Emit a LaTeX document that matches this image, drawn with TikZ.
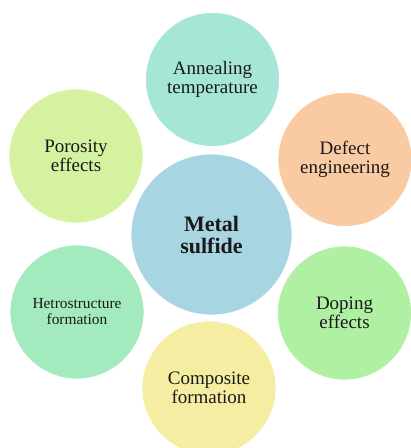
\documentclass[tikz,border=0pt]{standalone}
\usepackage{fontspec}
\setmainfont{Liberation Serif}
\definecolor{annealfill}{RGB}{166, 230, 214}
\definecolor{porefill}{RGB}{213, 242, 160}
\definecolor{defectfill}{RGB}{250, 203, 163}
\definecolor{metalfill}{RGB}{168, 213, 226}
\definecolor{heterofill}{RGB}{163, 235, 190}
\definecolor{dopefill}{RGB}{176, 240, 162}
\definecolor{compfill}{RGB}{245, 238, 162}
\begin{document}
\begin{tikzpicture}[x=1pt, y=-1pt,
            factor/.style={circle, draw=white, line width=0.8pt, minimum size=134pt, inner sep=0pt, align=center, text=black!90, font=\fontsize{19}{19.5}\selectfont},
            core/.style={factor, minimum size=161pt, font=\fontsize{22}{22}\selectfont\bfseries}
        ]
            \useasboundingbox (0,0) rectangle (411,448);

            \node[core, fill=metalfill] (metal) at (211.5,234.5) {Metal\\sulfide};

            \node[factor, fill=annealfill] (anneal) at (212.5,79.5) {Annealing\\temperature};
            \node[factor, fill=defectfill] (defect) at (345,159.5) {Defect\\engineering};
            \node[factor, fill=dopefill] (doping) at (344.5,313) {Doping\\effects};
            \node[factor, fill=compfill] (composite) at (209,388) {Composite\\formation};
            \node[factor, fill=heterofill, font=\fontsize{15.4}{16}\selectfont] (hetero) at (77,312) {Hetrostructure\\formation};
            \node[factor, fill=porefill] (porosity) at (76,156) {Porosity\\effects};
        \end{tikzpicture}
\end{document}
